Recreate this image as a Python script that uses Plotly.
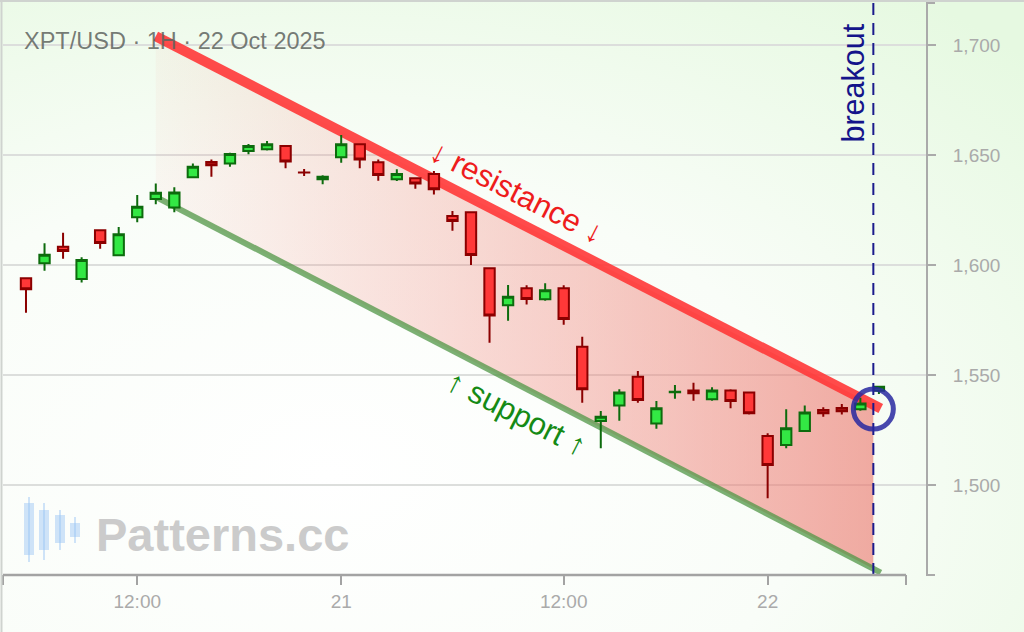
import base64

import numpy as np
import plotly.graph_objects as go

# hourly XPT/USD candles, 20 Oct 06:00 .. 22 Oct 06:00 (index = bar number)
bar_index = list(range(47))
opens = [
    1594.0, 1600.8, 1608.3, 1593.6, 1615.8, 1604.4, 1621.7, 1630.0, 1626.2, 1639.9,
    1646.8, 1646.2, 1651.8, 1652.6, 1654.1, 1642.1, 1639.0, 1649.0, 1654.9, 1646.7,
    1639.0, 1639.4, 1641.4, 1622.3, 1624.0, 1598.5, 1581.7, 1589.4, 1584.4, 1589.4,
    1562.9, 1529.1, 1536.2, 1549.2, 1528.0, 1542.2, 1543.0, 1539.0, 1543.0, 1542.1,
    1522.3, 1518.2, 1524.5, 1534.1, 1535.0, 1534.4, 1542.9,
]
highs = [
    1594.3, 1609.9, 1614.7, 1603.5, 1616.2, 1617.3, 1631.8, 1637.1, 1635.3, 1646.2,
    1648.0, 1651.0, 1655.0, 1656.4, 1654.4, 1643.6, 1640.8, 1659.1, 1655.3, 1648.0,
    1643.5, 1639.5, 1642.7, 1624.5, 1624.2, 1598.8, 1590.9, 1590.8, 1591.7, 1590.8,
    1567.4, 1533.6, 1543.5, 1551.8, 1538.2, 1545.5, 1546.5, 1544.4, 1543.5, 1542.3,
    1523.5, 1534.4, 1536.2, 1535.3, 1536.8, 1539.7, 1544.8,
]
lows = [
    1578.3, 1597.4, 1602.9, 1592.1, 1607.4, 1604.0, 1619.4, 1627.6, 1624.0, 1639.4,
    1640.1, 1644.7, 1650.3, 1652.0, 1644.0, 1640.5, 1636.7, 1646.5, 1644.0, 1638.3,
    1638.2, 1634.7, 1632.0, 1615.6, 1600.0, 1564.7, 1574.7, 1582.1, 1583.8, 1572.9,
    1537.4, 1516.7, 1529.2, 1537.4, 1525.6, 1539.2, 1538.3, 1538.3, 1534.9, 1532.0,
    1494.0, 1516.7, 1524.3, 1531.0, 1532.0, 1533.8, 1541.4,
]
closes = [
    1589.0, 1604.7, 1606.4, 1602.3, 1610.0, 1614.0, 1626.5, 1632.9, 1633.0, 1644.7,
    1645.3, 1650.5, 1654.1, 1654.9, 1647.1, 1642.0, 1640.1, 1654.9, 1648.0, 1640.9,
    1641.4, 1637.1, 1634.4, 1620.0, 1604.5, 1577.0, 1585.6, 1584.5, 1588.5, 1575.5,
    1543.5, 1531.0, 1542.1, 1538.6, 1534.9, 1542.4, 1541.7, 1543.0, 1538.2, 1532.6,
    1509.1, 1525.8, 1533.0, 1532.6, 1533.5, 1537.1, 1544.7,
]

tick_positions = [6, 17, 29, 40]
tick_labels = ["12:00", "21", "12:00", "22"]
price_ticks = [1500, 1550, 1600, 1650, 1700]

# descending channel
channel_x = [7, 46.1]
resistance_y = [1704.0, 1534.8]
support_y = [1631.0, 1460.2]
breakout_x = 45.7
breakout_y = 1534.5

FONT = "Liberation Sans, Arial, sans-serif"
X_RANGE = [-1.24, 48.54]
Y_RANGE = [1459.1, 1719.1]
W, H = 1024, 632
ML, MR, MT, MB = 3, 98, 3, 57
PW, PH = W - ML - MR, H - MT - MB


def px(x):
    return (x - ML) / PW


def py(y):
    return (H - MB - y) / PH


fig = go.Figure()

# channel fill, fading in towards the breakout
fill_x = [channel_x[0], breakout_x, breakout_x, channel_x[0]]
fill_y = [
    resistance_y[0],
    float(np.interp(breakout_x, channel_x, resistance_y)),
    float(np.interp(breakout_x, channel_x, support_y)),
    support_y[0],
]
fig.add_trace(
    go.Scatter(
        x=fill_x,
        y=fill_y,
        mode="none",
        fill="toself",
        fillgradient=dict(
            type="horizontal",
            colorscale=[[0, "rgba(245,140,130,0.06)"], [1, "rgba(235,115,105,0.6)"]],
        ),
        hoverinfo="skip",
        showlegend=False,
    )
)
fig.add_trace(
    go.Scatter(
        x=channel_x,
        y=support_y,
        mode="lines",
        line=dict(color="rgba(80,150,70,0.75)", width=6),
        hoverinfo="skip",
        showlegend=False,
    )
)
fig.add_trace(
    go.Scatter(
        x=channel_x,
        y=resistance_y,
        mode="lines",
        line=dict(color="rgba(255,55,55,0.9)", width=10),
        hoverinfo="skip",
        showlegend=False,
    )
)
# candles on an overlaid pair of axes so they sit above the channel
fig.add_trace(
    go.Candlestick(
        x=bar_index,
        open=opens,
        high=highs,
        low=lows,
        close=closes,
        xaxis="x2",
        yaxis="y2",
        increasing=dict(fillcolor="#33e844", line=dict(color="#0d6b0d", width=2)),
        decreasing=dict(fillcolor="#ff3838", line=dict(color="#8b0000", width=2)),
        whiskerwidth=0,
        hoverinfo="skip",
        showlegend=False,
    )
)

# background wash
svg = (
    '<svg xmlns="http://www.w3.org/2000/svg" width="1024" height="632">'
    '<defs><radialGradient id="g" cx="0.32" cy="0.75" r="0.95">'
    '<stop offset="0" stop-color="#ffffff"/>'
    '<stop offset="0.5" stop-color="#f9fdf8"/>'
    '<stop offset="1" stop-color="#e6f9e1"/>'
    "</radialGradient></defs>"
    '<rect width="1024" height="632" fill="url(#g)"/></svg>'
)
bg_src = "data:image/svg+xml;base64," + base64.b64encode(svg.encode()).decode()

shapes = [
    # breakout marker
    dict(type="line", xref="x", yref="paper", x0=breakout_x, x1=breakout_x, y0=0, y1=1,
         line=dict(color="#1a1a8c", width=2, dash="12px,8px"), layer="above"),
    dict(type="circle", xref="x", yref="y",
         x0=breakout_x - 20 / 18.54, x1=breakout_x + 20 / 18.54,
         y0=breakout_y - 20 / 2.2, y1=breakout_y + 20 / 2.2,
         line=dict(color="rgba(40,40,160,0.85)", width=5), layer="above"),
    # bottom axis line with end ticks
    dict(type="line", xref="paper", yref="paper", x0=0, x1=px(906), y0=0, y1=0,
         line=dict(color="#a3a3a3", width=2.5)),
    dict(type="line", xref="paper", yref="paper", x0=0, x1=0, y0=0, y1=py(585),
         line=dict(color="#a3a3a3", width=2)),
    dict(type="line", xref="paper", yref="paper", x0=px(906), x1=px(906), y0=0, y1=py(585),
         line=dict(color="#a3a3a3", width=2)),
    # right axis end ticks
    dict(type="line", xref="paper", yref="paper", x0=1, x1=px(935), y0=1, y1=1,
         line=dict(color="#aaaaaa", width=2)),
    dict(type="line", xref="paper", yref="paper", x0=1, x1=px(935), y0=0, y1=0,
         line=dict(color="#aaaaaa", width=2)),
    # frame edges
    dict(type="line", xref="paper", yref="paper", x0=px(1.5), x1=px(1.5), y0=py(0), y1=py(632),
         line=dict(color="#cfd3cf", width=2)),
    dict(type="line", xref="paper", yref="paper", x0=px(0), x1=px(1024), y0=py(1), y1=py(1),
         line=dict(color="#cfd3cf", width=2)),
]

# watermark logo candles (pixel positions)
for cx, b0, b1, w0, w1 in [(29, 503, 555, 497, 562), (44, 510, 550, 503, 560),
                           (60, 515, 543, 510, 550), (75, 523, 537, 517, 543)]:
    shapes.append(dict(type="line", xref="paper", yref="paper", x0=px(cx), x1=px(cx),
                       y0=py(w0), y1=py(w1), line=dict(color="rgba(150,195,245,0.45)", width=2)))
    shapes.append(dict(type="rect", xref="paper", yref="paper", x0=px(cx - 5), x1=px(cx + 5),
                       y0=py(b0), y1=py(b1), line=dict(width=0),
                       fillcolor="rgba(150,195,245,0.45)"))

annotations = [
    dict(text="XPT/USD · 1H · 22 Oct 2025", xref="paper", yref="paper", x=px(22), y=py(41),
         xanchor="left", yanchor="middle", showarrow=False,
         font=dict(family=FONT, size=23.5, color="rgba(95,100,95,0.85)")),
    dict(text="↓ resistance ↓", xref="x", yref="y", x=26.5, y=1633.0, textangle=27,
         xanchor="center", yanchor="middle",
         showarrow=False, font=dict(family=FONT, size=31, color="#ee1c1c")),
    dict(text="↑ support ↑", xref="x", yref="y", x=26.5, y=1532.7, textangle=27,
         xanchor="center", yanchor="middle",
         showarrow=False, font=dict(family=FONT, size=31, color="#158a15")),
    dict(text="breakout", xref="x", yref="y", x=44.55, y=1682.5, textangle=-90,
         xanchor="center", yanchor="middle",
         showarrow=False, font=dict(family=FONT, size=30.5, color="#14148a")),
    dict(text="<b>Patterns.cc</b>", xref="paper", yref="paper", x=px(222), y=py(534),
         xanchor="center", yanchor="middle",
         showarrow=False, font=dict(family=FONT, size=47, color="#cbcbcb")),
]

fig.update_layout(
    width=W,
    height=H,
    autosize=False,
    margin=dict(l=ML, r=MR, t=MT, b=MB, pad=0),
    paper_bgcolor="#f4fbf2",
    plot_bgcolor="rgba(0,0,0,0)",
    showlegend=False,
    boxgap=0.2,
    shapes=shapes,
    annotations=annotations,
    images=[dict(source=bg_src, xref="paper", yref="paper", x=px(0), y=py(0),
                 sizex=W / PW, sizey=H / PH, xanchor="left", yanchor="top",
                 sizing="stretch", layer="below")],
    font=dict(family=FONT),
    xaxis=dict(
        range=X_RANGE,
        tickvals=tick_positions,
        ticktext=tick_labels,
        showgrid=False,
        zeroline=False,
        showline=False,
        ticks="outside",
        ticklen=9,
        tickwidth=2,
        tickcolor="#a3a3a3",
        tickfont=dict(family=FONT, size=19, color="#aaaaaa"),
        rangeslider_visible=False,
    ),
    yaxis=dict(
        range=Y_RANGE,
        side="right",
        tickvals=price_ticks,
        tickformat=",",
        showgrid=True,
        gridcolor="#dcdedc",
        gridwidth=2,
        zeroline=False,
        showline=True,
        linecolor="#aaaaaa",
        linewidth=2,
        ticks="outside",
        ticklen=8,
        tickwidth=2,
        tickcolor="#aaaaaa",
        ticklabelstandoff=13,
        tickfont=dict(family=FONT, size=19, color="#aaaaaa"),
    ),
    xaxis2=dict(range=X_RANGE, overlaying="x", visible=False, rangeslider_visible=False),
    yaxis2=dict(range=Y_RANGE, overlaying="y", visible=False),
)

fig.write_html(
    "out.html",
    config={"displayModeBar": False, "staticPlot": True},
    post_script="document.body.style.margin='0';document.body.style.overflow='hidden';",
)
